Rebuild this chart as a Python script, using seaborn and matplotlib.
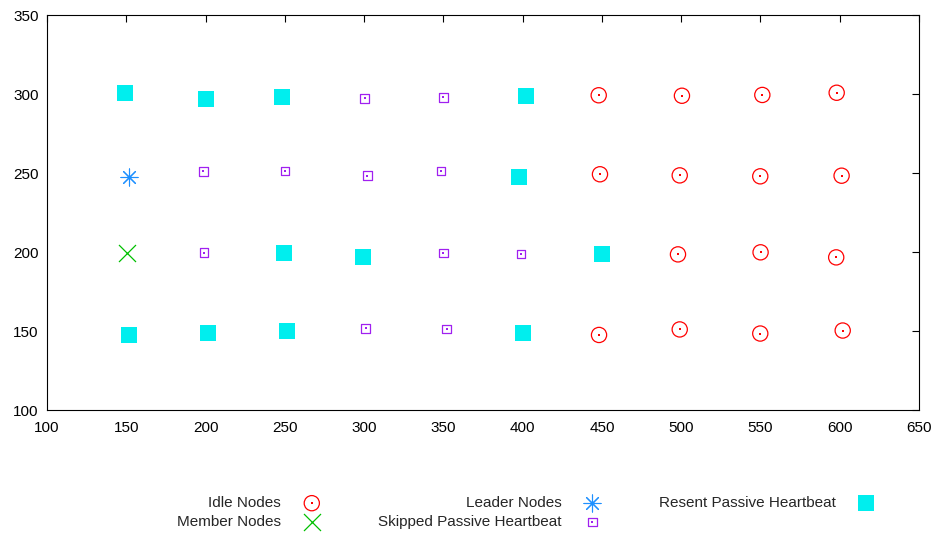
import matplotlib
matplotlib.use("Agg")
import matplotlib.pyplot as plt
from matplotlib.legend_handler import HandlerTuple
import seaborn as sns

# Node positions per category
idle_x = [448.0, 500.5, 551.2, 598.1, 448.8, 499.1, 549.9, 601.2,
          498.0, 550.1, 597.8, 448.2, 499.1, 549.9, 601.9]
idle_y = [299.2, 298.9, 299.4, 300.8, 249.2, 248.5, 247.9, 248.3,
          198.5, 199.8, 196.6, 147.5, 151.0, 148.4, 150.3]

leader_x = [151.9]
leader_y = [247.7]

resent_x = [149.2, 200.3, 248.0, 402.3, 397.9, 249.5, 299.1, 450.2,
            151.7, 201.7, 251.6, 400.4]
resent_y = [300.8, 297.0, 297.9, 298.7, 247.3, 199.2, 197.0, 199.0,
            147.3, 148.5, 150.3, 148.5]

member_x = [150.6]
member_y = [199.2]

skipped_x = [300.4, 350.0, 198.6, 250.1, 302.0, 348.5, 199.0, 350.0,
             399.0, 301.0, 352.1]
skipped_y = [297.3, 297.9, 251.1, 251.3, 248.3, 251.3, 199.6, 199.4,
             198.7, 151.7, 151.3]

x_ticks = [100, 150, 200, 250, 300, 350, 400, 450, 500, 550, 600, 650]
y_ticks = [100, 150, 200, 250, 300, 350]

sns.set_style("white")
plt.rcParams["font.family"] = ["Liberation Sans", "DejaVu Sans"]
plt.rcParams["font.size"] = 11

fig = plt.figure(figsize=(9.36, 5.34), dpi=100)
ax = fig.add_axes([0.0502, 0.2322, 0.9316, 0.7397])

RED = "#ff0000"
BLUE = "#1e90ff"
CYAN = "#00eeee"
GREEN = "#00c000"
PURPLE = "#a020f0"

sns.scatterplot(x=idle_x, y=idle_y, marker="o", s=120, facecolor="none",
                edgecolor=RED, linewidth=0.9, ax=ax)
sns.scatterplot(x=idle_x, y=idle_y, marker="s", s=1.0, color=RED,
                linewidth=0, ax=ax)
sns.scatterplot(x=leader_x, y=leader_y, marker=(8, 2, 0), s=150,
                color=BLUE, edgecolor=BLUE, linewidth=0.8, ax=ax)
sns.scatterplot(x=resent_x, y=resent_y, marker="s", s=149, color=CYAN,
                linewidth=0, ax=ax)
sns.scatterplot(x=member_x, y=member_y, marker="x", s=150, color=GREEN,
                linewidth=0.9, ax=ax)
sns.scatterplot(x=skipped_x, y=skipped_y, marker="s", s=40,
                facecolor="none", edgecolor=PURPLE, linewidth=0.9, ax=ax)
sns.scatterplot(x=skipped_x, y=skipped_y, marker="s", s=1.0, color=PURPLE,
                linewidth=0, ax=ax)

cols = ax.collections
handles = [(cols[0], cols[1]), (cols[4],), (cols[2],), (cols[5], cols[6]),
           (cols[3],)]
labels = ["Idle Nodes", "Member Nodes", "Leader Nodes",
          "Skipped Passive Heartbeat", "Resent Passive Heartbeat"]

ax.set_xlim(100, 650)
ax.set_ylim(100, 350)
ax.set_xticks(x_ticks)
ax.set_yticks(y_ticks)
ax.tick_params(direction="in", length=5, width=0.8, top=True, right=True,
               labelsize=11, colors="black")
ax.tick_params(axis="y", pad=6)
ax.tick_params(axis="x", pad=8)
for sp in ax.spines.values():
    sp.set_color("black")
    sp.set_linewidth(0.8)

fig.legend(handles, labels, ncol=3, markerfirst=False, frameon=False,
           loc="center left", bbox_to_anchor=(0.1812, 0.040),
           borderpad=0, handlelength=1.5, handletextpad=1.25,
           columnspacing=3.6, labelspacing=0.32, fontsize=11,
           handler_map={tuple: HandlerTuple(ndivide=1, pad=0)})

fig.savefig("out.png", dpi=100)
